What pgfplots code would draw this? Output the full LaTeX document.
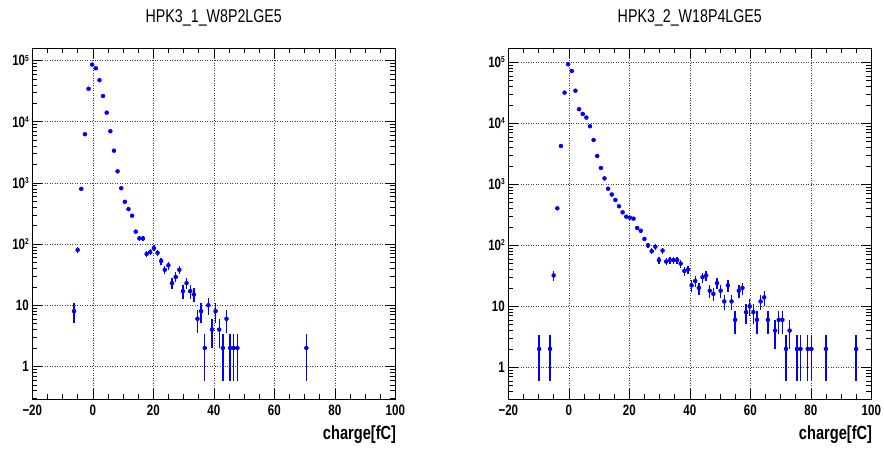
\documentclass[border=0pt]{standalone}
\usepackage{graphicx}
\usepackage{fontspec}
\setmainfont{Liberation Sans}
\usepackage{pgfplots}
\usepackage{pgfplotstable}
\pgfplotsset{compat=1.18}

\newcommand\sq[1]{\scalebox{0.77}[1]{#1}}
\newcommand\tl[1]{\sq{\fontsize{15}{16}\selectfont\bfseries #1}}
\newcommand\ex[1]{\sq{\fontsize{15}{16}\selectfont\bfseries 10\raisebox{4.8pt}{\fontsize{8.5}{9}\selectfont #1}}}

\pgfplotstableread{
x y
-6.2 8
-5.0 80
-3.8 800
-2.6 6270
-1.4 34700
-0.2 86100
1.0 75100
2.2 48000
3.4 26400
4.6 14100
5.8 7010
7.0 3370
8.2 1550
9.4 820
10.6 491
11.8 373
13.0 291
14.2 160
15.4 124
16.6 124
17.8 69
19.0 74
20.2 86
21.4 72
22.6 53
23.8 38
25.0 45
26.2 23
27.4 29
28.6 38
29.8 17
31.0 23
32.2 17
33.4 15
34.6 6
35.8 8
37.0 2
38.2 10
39.4 4
40.6 8
41.8 4
43.0 2
44.2 6
45.4 2
46.6 2
47.8 2
70.6 2
}\lefttab

\pgfplotstableread{
x y
-9.8 2
-6.2 2
-5.0 32
-3.8 404
-2.6 4240
-1.4 31800
-0.2 92700
1.0 72000
2.2 34200
3.4 17000
4.6 14200
5.8 12400
7.0 8940
8.2 5320
9.4 2910
10.6 1850
11.8 1250
13.0 845
14.2 680
15.4 553
16.6 436
17.8 347
19.0 294
20.2 283
21.4 273
22.6 192
23.8 173
25.0 127
26.2 100
27.4 80
28.6 95
29.8 57
31.0 82
32.2 54
33.4 57
34.6 57
35.8 57
37.0 50
38.2 38
39.4 40
40.6 22
41.8 26
43.0 20
44.2 30
45.4 32
46.6 18
47.8 16
49.0 24
50.2 18
51.4 12
52.6 22
53.8 12
55.0 6
56.2 18
57.4 20
58.6 8
59.8 10
61.0 8
62.2 6
63.4 12
64.6 14
65.8 6
68.2 4
69.4 6
70.6 6
71.8 2
73.0 4
75.4 2
76.6 2
79.0 2
80.2 2
85.0 2
95.0 2
}\righttab

\pgfplotsset{
  rootstyle/.style={
    scale only axis, width=363pt, height=351pt,
    xmin=-20, xmax=100,
    axis line style={line width=0.8pt},
    tick align=inside, xtick pos=both, ytick pos=both,
    major tick length=10pt, minor tick length=5pt,
    tick style={black, line width=0.6pt},
    xtick={-20,0,20,40,60,80,100}, minor x tick num=3,
    xticklabels={\tl{−20},\tl{0},\tl{20},\tl{40},\tl{60},\tl{80},\tl{100}},
    ytick={1,10,100,1000,10000,100000},
    yticklabels={\tl{1},\tl{10},\ex{2},\ex{3},\ex{4},\ex{5}},
    minor ytick={0.3,0.4,0.5,0.6,0.7,0.8,0.9,2,3,4,5,6,7,8,9,20,30,40,50,60,70,80,90,200,300,400,500,600,700,800,900,2000,3000,4000,5000,6000,7000,8000,9000,20000,30000,40000,50000,60000,70000,80000,90000},
    xticklabel style={yshift=-2pt},
    grid=major,
    major grid style={black!75, dash pattern=on 1pt off 1.5pt, line width=0.6pt},
    xlabel={\sq{\fontsize{19}{21}\selectfont\bfseries charge[fC]}},
    xlabel style={at={(axis description cs:1,0)}, anchor=base east, yshift=-41pt, xshift=1pt, inner sep=0pt},
    title style={at={(axis description cs:0.5,1)}, anchor=base, yshift=19pt, inner sep=0pt},
  },
}

\begin{document}
\begin{tikzpicture}
\path[use as bounding box] (0,0) rectangle (884pt,449pt);
\begin{axis}[ymode=log, rootstyle, at={(32.3pt,50pt)}, anchor=south west,
  ymin=0.293, ymax=161000,
  title={\sq{\fontsize{18.5}{20}\selectfont HPK3\_1\_W8P2LGE5}}]
\addplot+[blue, only marks, mark=*, mark options={draw=none, fill=none},
  error bars/.cd, x dir=both, x fixed=0.6, y dir=both, y explicit,
  error mark=none, error bar style={blue, line width=1.4pt}]
  table[x=x, y=y, y error expr={sqrt(\thisrow{y})}] {\lefttab};
\end{axis}
\begin{axis}[ymode=log, rootstyle, at={(508.3pt,50pt)}, anchor=south west,
  ymin=0.302, ymax=171500,
  title={\sq{\fontsize{18.5}{20}\selectfont HPK3\_2\_W18P4LGE5}}]
\addplot+[blue, only marks, mark=*, mark options={draw=none, fill=none},
  error bars/.cd, x dir=both, x fixed=0.6, y dir=both, y explicit,
  error mark=none, error bar style={blue, line width=1.4pt}]
  table[x=x, y=y, y error expr={sqrt(\thisrow{y})}] {\righttab};
\end{axis}
\end{tikzpicture}
\end{document}
